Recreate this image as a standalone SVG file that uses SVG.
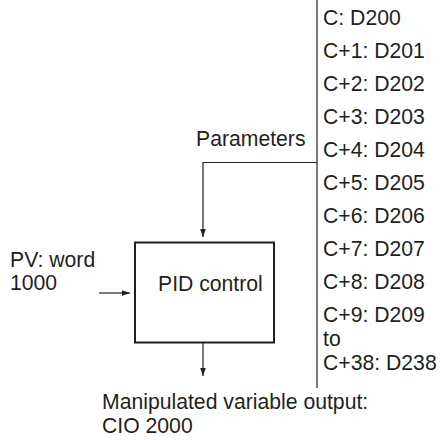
<svg xmlns="http://www.w3.org/2000/svg" width="441" height="440" viewBox="0 0 441 440">
  <defs>
    <marker id="arr" viewBox="0 0 10 10" refX="10" refY="5" markerWidth="8" markerHeight="8" markerUnits="userSpaceOnUse" orient="auto">
      <path d="M0,1.5 L10,5 L0,8.5 Z" fill="#231f20"/>
    </marker>
    <style>
      text { font-family: "Liberation Sans", Arial, sans-serif; font-size: 21.2px; fill: #231f20; }
      .ln { stroke: #231f20; stroke-width: 1.2; fill: none; }
      .box { stroke: #231f20; stroke-width: 2; fill: #ffffff; }
    </style>
  </defs>
  <rect width="441" height="440" fill="#ffffff"/>
  <g id="connectors">
    <line class="ln" x1="317" y1="0" x2="317" y2="388"/>
    <polyline class="ln" points="317,162.5 203,162.5 203,237" marker-end="url(#arr)"/>
    <line class="ln" x1="99" y1="293" x2="130" y2="293" marker-end="url(#arr)"/>
    <line class="ln" x1="203" y1="342" x2="203" y2="376" marker-end="url(#arr)"/>
  </g>
  <g id="pid">
    <rect class="box" x="135" y="242.5" width="139" height="100"/>
    <text x="158" y="291">PID control</text>
  </g>
  <g id="pv">
    <text x="10" y="267">PV: word</text>
    <text x="10" y="290">1000</text>
  </g>
  <g id="parameters">
    <text x="196" y="146">Parameters</text>
  </g>
  <g id="param-list">
    <text x="323" y="25">C: D200</text>
    <text x="323" y="58">C+1: D201</text>
    <text x="323" y="91">C+2: D202</text>
    <text x="323" y="124">C+3: D203</text>
    <text x="323" y="157">C+4: D204</text>
    <text x="323" y="190">C+5: D205</text>
    <text x="323" y="223">C+6: D206</text>
    <text x="323" y="256">C+7: D207</text>
    <text x="323" y="289">C+8: D208</text>
    <text x="323" y="322">C+9: D209</text>
    <text x="323" y="346">to</text>
    <text x="323" y="370">C+38: D238</text>
  </g>
  <g id="output">
    <text x="102" y="409">Manipulated variable output:</text>
    <text x="102" y="433">CIO 2000</text>
  </g>
</svg>
